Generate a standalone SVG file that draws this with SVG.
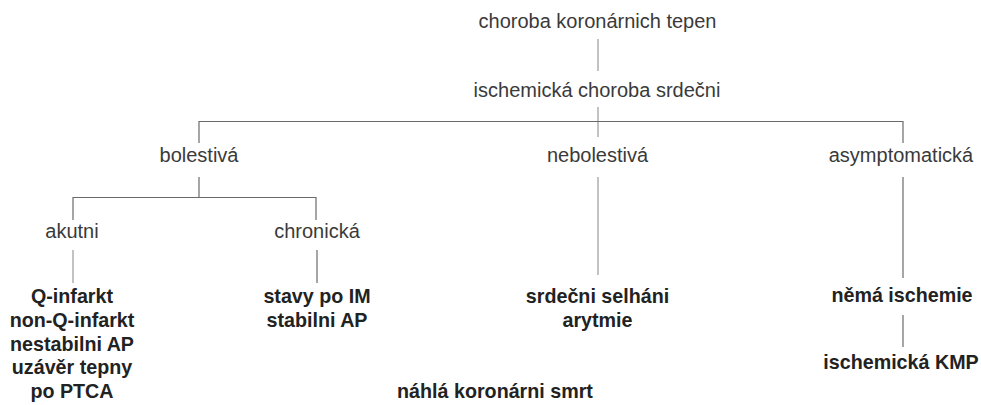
<svg xmlns="http://www.w3.org/2000/svg" width="981" height="405" viewBox="0 0 981 405">
<style>
.n{font-family:"Liberation Sans",Arial,sans-serif;font-size:20px;fill:#3a3a3a;text-anchor:middle}
.b{font-family:"Liberation Sans",Arial,sans-serif;font-size:19.7px;font-weight:bold;fill:#222;text-anchor:middle}
.c line{stroke:#6a6a6a;stroke-width:1.2;fill:none}
.c line.l{stroke:#9a9a9a}
</style>
<rect width="981" height="405" fill="#fff"/>
<g class="c" id="connectors">
<line class="l" x1="598" y1="39" x2="598" y2="71"/>
<line class="l" x1="598" y1="107" x2="598" y2="137"/>
<line x1="199" y1="121.5" x2="903" y2="121.5"/>
<line x1="199" y1="121" x2="199" y2="143"/>
<line x1="903" y1="121" x2="903" y2="143"/>
<line x1="199" y1="177" x2="199" y2="197"/>
<line x1="73" y1="197.5" x2="316" y2="197.5"/>
<line x1="73" y1="197" x2="73" y2="220"/>
<line x1="316" y1="197" x2="316" y2="220"/>
<line class="l" x1="73" y1="250" x2="73" y2="283"/>
<line x1="317" y1="250" x2="317" y2="283"/>
<line class="l" x1="598" y1="177" x2="598" y2="275"/>
<line x1="903" y1="177" x2="903" y2="278"/>
<line x1="903" y1="315" x2="903" y2="347"/>
</g>
<g id="n-ckt"><text class="n" x="597.5" y="28">choroba koronárnich tepen</text></g>
<g id="n-ics"><text class="n" x="597" y="97">ischemická choroba srdečni</text></g>
<g id="n-bol"><text class="n" x="199" y="162">bolestivá</text></g>
<g id="n-nebol"><text class="n" x="597.5" y="162">nebolestivá</text></g>
<g id="n-asym"><text class="n" x="901" y="162">asymptomatická</text></g>
<g id="n-akut"><text class="n" x="72" y="238">akutni</text></g>
<g id="n-chron"><text class="n" x="317" y="238">chronická</text></g>
<g id="n-akut-list">
<text class="b" x="72" y="303">Q-infarkt</text>
<text class="b" x="72" y="326.8">non-Q-infarkt</text>
<text class="b" x="72" y="350.5">nestabilni AP</text>
<text class="b" x="72" y="374.3">uzávěr tepny</text>
<text class="b" x="72" y="398">po PTCA</text>
</g>
<g id="n-chron-list">
<text class="b" x="317" y="303">stavy po IM</text>
<text class="b" x="317" y="326.8">stabilni AP</text>
</g>
<g id="n-nebol-list">
<text class="b" x="597.5" y="303">srdečni selháni</text>
<text class="b" x="597.5" y="326.8">arytmie</text>
</g>
<g id="n-nema"><text class="b" x="902" y="302">němá ischemie</text></g>
<g id="n-kmp"><text class="b" x="901" y="369">ischemická KMP</text></g>
<g id="n-nks"><text class="b" x="495" y="398">náhlá koronárni smrt</text></g>
</svg>
